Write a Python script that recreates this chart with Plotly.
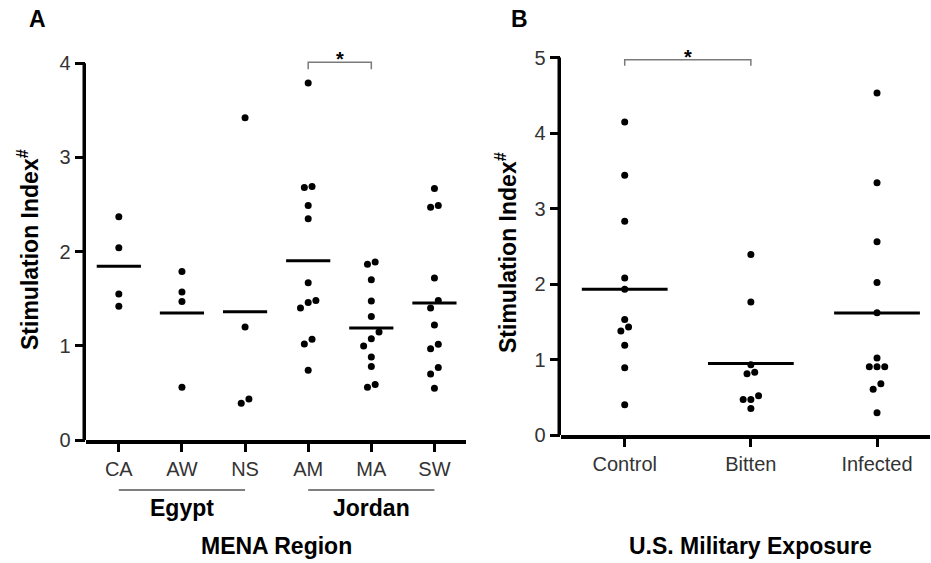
import numpy as np
import plotly.graph_objects as go

# ---------------- data ----------------
# Panel A: MENA region sites
mena_sites = ["CA", "AW", "NS", "AM", "MA", "SW"]
mena_countries = ["Egypt", "Jordan"]
ca_vals = [2.37, 2.04, 1.55, 1.42]
aw_vals = [1.79, 1.57, 1.47, 0.56]
ns_vals = [3.42, 1.20, 0.435, 0.39]
am_vals = [3.79, 2.69, 2.68, 2.49, 2.35, 1.67, 1.48, 1.46, 1.40, 1.07, 1.02, 0.74]
ma_vals = [1.89, 1.865, 1.70, 1.475, 1.31, 1.146, 1.075, 0.998, 0.88, 0.78, 0.59, 0.56]
sw_vals = [2.67, 2.49, 2.47, 1.72, 1.48, 1.40, 1.22, 1.016, 0.97, 0.77, 0.70, 0.55]
mena_values = [ca_vals, aw_vals, ns_vals, am_vals, ma_vals, sw_vals]
a_ticks = [0, 1, 2, 3, 4]

# Panel B: U.S. military exposure
exposure_groups = ["Control", "Bitten", "Infected"]
control_vals = [4.146, 3.44, 2.83, 2.08, 1.93, 1.53, 1.43, 1.377, 1.19, 0.89, 0.40]
bitten_vals = [2.39, 1.76, 0.93, 0.83, 0.81, 0.52, 0.47, 0.47, 0.35]
infected_vals = [4.53, 3.34, 2.56, 2.02, 1.62, 1.02, 0.905, 0.905, 0.905, 0.68, 0.605, 0.295]
exposure_values = [control_vals, bitten_vals, infected_vals]
b_ticks = [0, 1, 2, 3, 4, 5]

# significance comparisons (group index pairs)
a_sig = (3, 4)
b_sig = (0, 1)

# ---------------- layout geometry (pixels) ----------------
W, H = 931, 563
def px_x(p):
    return p / W
def px_y(p):
    return 1 - p / H

A_LEFT, A_RIGHT = 86, 466
A_ZERO, A_UNIT, A_TOP = 440, 94.2, 4.3
B_LEFT, B_RIGHT = 561, 930
B_ZERO, B_UNIT, B_TOP = 435, 75.5, 5.3
A_XR = [-0.52, 5.5]
B_XR = [-0.505, 2.42]
A_CAT = (A_RIGHT - A_LEFT) / (A_XR[1] - A_XR[0])
B_CAT = (B_RIGHT - B_LEFT) / (B_XR[1] - B_XR[0])

TICK_FONT = dict(family="Arial, Liberation Sans, sans-serif", size=20, color="#333333")
BOLD = "Arial, Liberation Sans, sans-serif"
AXW = 3.5


def row_offsets(vals, gap_val, step):
    """Arrange close values in centred rows (scatter dot plot)."""
    order = sorted(range(len(vals)), key=lambda i: vals[i])
    rows, cur = [], [order[0]]
    for i in order[1:]:
        if vals[i] - vals[cur[-1]] <= gap_val:
            cur.append(i)
        else:
            rows.append(cur)
            cur = [i]
    rows.append(cur)
    off = [0.0] * len(vals)
    for r in rows:
        n = len(r)
        for k, i in enumerate(r):
            off[i] = (k - (n - 1) / 2) * step
    return off


fig = go.Figure()

def add_panel(values, xa, ya, gap_px, unit, cat, half):
    for gi, vals in enumerate(values):
        offs = row_offsets(vals, gap_px / unit, 7.7 / cat)
        fig.add_trace(go.Scatter(
            x=[gi + o for o in offs], y=vals, mode="markers",
            marker=dict(size=7, color="black"), xaxis=xa, yaxis=ya,
            showlegend=False, hoverinfo="skip"))
        m = float(np.mean(vals))
        fig.add_trace(go.Scatter(
            x=[gi - half, gi + half], y=[m, m], mode="lines",
            line=dict(color="black", width=3), xaxis=xa, yaxis=ya,
            showlegend=False, hoverinfo="skip"))

add_panel(mena_values, "x", "y", 8, A_UNIT, A_CAT, 0.35)
add_panel(exposure_values, "x2", "y2", 7, B_UNIT, B_CAT, 0.34)

# significance brackets
def bracket(pair, ytop, ybot, xa, ya):
    a, b = pair
    fig.add_trace(go.Scatter(
        x=[a, a, b, b], y=[ybot, ytop, ytop, ybot], mode="lines",
        line=dict(color="#7a7a7a", width=1.5), xaxis=xa, yaxis=ya,
        showlegend=False, hoverinfo="skip"))

bracket(a_sig, 4.01, 3.935, "x", "y")
bracket(b_sig, 4.97, 4.89, "x2", "y2")

fig.update_layout(
    width=W, height=H, margin=dict(l=0, r=0, t=0, b=0),
    paper_bgcolor="white", plot_bgcolor="white", showlegend=False,
    xaxis=dict(domain=[px_x(A_LEFT), px_x(A_RIGHT)], range=A_XR,
               tickvals=list(range(len(mena_sites))), ticktext=mena_sites,
               showline=True, linewidth=AXW, linecolor="black",
               ticks="outside", ticklen=8, tickwidth=3, tickcolor="black",
               showgrid=False, zeroline=False, tickfont=TICK_FONT, automargin=False),
    yaxis=dict(domain=[px_y(A_ZERO), px_y(A_ZERO - A_TOP * A_UNIT)], range=[0, A_TOP],
               tickvals=a_ticks, showline=False,
               ticks="outside", ticklen=10.5, tickwidth=3, tickcolor="black",
               showgrid=False, zeroline=False, tickfont=TICK_FONT, automargin=False),
    xaxis2=dict(domain=[px_x(B_LEFT), px_x(B_RIGHT)], range=B_XR,
                tickvals=list(range(len(exposure_groups))), ticktext=exposure_groups,
                showline=True, linewidth=AXW, linecolor="black",
                ticks="outside", ticklen=8, tickwidth=3, tickcolor="black",
                showgrid=False, zeroline=False, tickfont=TICK_FONT, anchor="y2",
                automargin=False),
    yaxis2=dict(domain=[px_y(B_ZERO), px_y(B_ZERO - B_TOP * B_UNIT)], range=[0, B_TOP],
                tickvals=b_ticks, showline=False,
                ticks="outside", ticklen=10.5, tickwidth=3, tickcolor="black",
                showgrid=False, zeroline=False, tickfont=TICK_FONT, anchor="x2",
                automargin=False),
)

# y axis lines (stop at the top tick)
fig.add_shape(type="line", xref="paper", yref="y",
              x0=px_x(A_LEFT - AXW / 2), x1=px_x(A_LEFT - AXW / 2),
              y0=-AXW / A_UNIT, y1=a_ticks[-1], line=dict(color="black", width=AXW))
fig.add_shape(type="line", xref="paper", yref="y2",
              x0=px_x(B_LEFT - AXW / 2), x1=px_x(B_LEFT - AXW / 2),
              y0=-AXW / B_UNIT, y1=b_ticks[-1], line=dict(color="black", width=AXW))

# country underlines
for ci, (g0, g1) in enumerate([(0, 2), (3, 5)]):
    fig.add_shape(type="line", xref="x", yref="paper", x0=g0, x1=g1,
                  y0=px_y(490), y1=px_y(490), line=dict(color="#555555", width=1.5))
    fig.add_annotation(x=(g0 + g1) / 2, y=px_y(508), xref="x", yref="paper",
                       text="<b>%s</b>" % mena_countries[ci], showarrow=False,
                       font=dict(family=BOLD, size=23, color="black"),
                       xanchor="center", yanchor="middle")

ann = [
    dict(x=2.5, y=px_y(546), xref="x", yref="paper", text="<b>MENA Region</b>"),
    dict(x=1, y=px_y(546), xref="x2", yref="paper", text="<b>U.S. Military Exposure</b>"),
    dict(x=px_x(37), y=px_y(19), xref="paper", yref="paper", text="<b>A</b>"),
    dict(x=px_x(519), y=px_y(19), xref="paper", yref="paper", text="<b>B</b>"),
]
for a in ann:
    fig.add_annotation(**a, showarrow=False, font=dict(family=BOLD, size=23, color="black"),
                       xanchor="center", yanchor="middle")

for xp, yc in [(28, 250), (506, 253)]:
    fig.add_annotation(x=px_x(xp), y=px_y(yc), xref="paper", yref="paper",
                       text="<b>Stimulation Index<sup>#</sup></b>", textangle=-90,
                       showarrow=False, font=dict(family=BOLD, size=23, color="black"),
                       xanchor="center", yanchor="middle")

# stars
fig.add_annotation(x=sum(a_sig) / 2, y=4.04, xref="x", yref="y", text="<b>*</b>",
                   showarrow=False, font=dict(family=BOLD, size=20, color="black"))
fig.add_annotation(x=sum(b_sig) / 2, y=5.01, xref="x2", yref="y2", text="<b>*</b>",
                   showarrow=False, font=dict(family=BOLD, size=20, color="black"))

fig.write_html("out.html")
